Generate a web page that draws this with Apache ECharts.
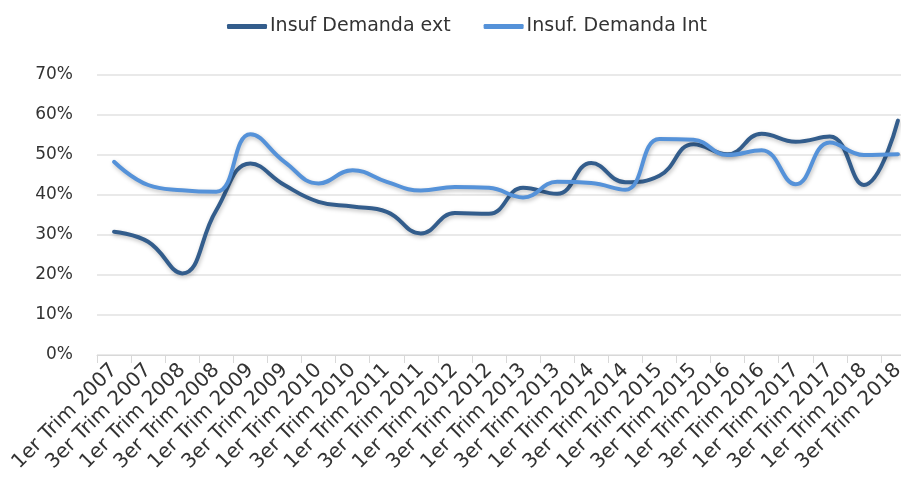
<!DOCTYPE html>
<html><head><meta charset="utf-8">
<script src="https://cdn.jsdelivr.net/npm/echarts@6/dist/echarts.min.js"></script>
<style>html,body{margin:0;padding:0;background:#fff;overflow:hidden}#c{width:915px;height:486px}</style>
</head><body><div id="c"></div>
<script>
const categories = ["1er Trim 2007","3er Trim 2007","1er Trim 2008","3er Trim 2008","1er Trim 2009","3er Trim 2009","1er Trim 2010","3er Trim 2010","1er Trim 2011","3er Trim 2011","1er Trim 2012","3er Trim 2012","1er Trim 2013","3er Trim 2013","1er Trim 2014","3er Trim 2014","1er Trim 2015","3er Trim 2015","1er Trim 2016","3er Trim 2016","1er Trim 2017","3er Trim 2017","1er Trim 2018","3er Trim 2018"];
const seriesNames = ["Insuf Demanda ext","Insuf. Demanda Int"];
const demandaExt = [30.8,28.3,20.4,36.2,47.9,42.5,38.3,37.1,35.8,30.4,35.5,35.3,41.8,40.3,48.0,43.2,44.8,52.7,50.2,55.3,53.3,54.6,42.5,58.6];
const demandaInt = [48.3,42.5,41.2,40.8,55.2,48.3,42.9,46.2,43.3,41.1,42.0,41.8,39.4,43.3,43.0,41.3,54.0,53.8,50.0,51.2,42.7,53.1,50.0,50.2];
const yTicks = [0,10,20,30,40,50,60,70];

const chart = echarts.init(document.getElementById('c'));
const lineStyleBase = {width:4, cap:'round', join:'round', shadowColor:'rgba(0,0,0,0.25)', shadowBlur:4, shadowOffsetX:1, shadowOffsetY:2};
chart.setOption({
  animation:false,
  legend:{
    top:12, left:222,
    itemWidth:40, itemHeight:5, itemGap:33,
    icon:'roundRect',
    textStyle:{fontFamily:'DejaVu Sans', fontSize:19, color:'#333', padding:[0,0,0,-2]},
    data:seriesNames
  },
  grid:{left:97, right:0, top:75, bottom:131, containLabel:false},
  xAxis:{
    type:'category', data:categories, boundaryGap:true,
    axisLine:{lineStyle:{color:'#d8d8d8', width:1}},
    axisTick:{show:true, length:8, lineStyle:{color:'#d8d8d8'}},
    axisLabel:{rotate:45, interval:0, fontFamily:'DejaVu Sans', fontSize:20, color:'#333', margin:12}
  },
  yAxis:{
    type:'value', min:yTicks[0], max:yTicks[yTicks.length-1], interval:10,
    axisLine:{show:false}, axisTick:{show:false},
    splitLine:{lineStyle:{color:'#e2e2e2', width:1.5}},
    axisLabel:{formatter:'{value}%', fontFamily:'DejaVu Sans', fontSize:17, color:'#333', margin:24}
  },
  series:[
    {name:seriesNames[0], type:'line', data:demandaExt, smooth:0.45, symbol:'none', color:'#335d8c',
     lineStyle:Object.assign({color:'#335d8c'}, lineStyleBase)},
    {name:seriesNames[1], type:'line', data:demandaInt, smooth:0.45, symbol:'none', color:'#5592d9',
     lineStyle:Object.assign({color:'#5592d9'}, lineStyleBase)}
  ]
});
</script></body></html>
